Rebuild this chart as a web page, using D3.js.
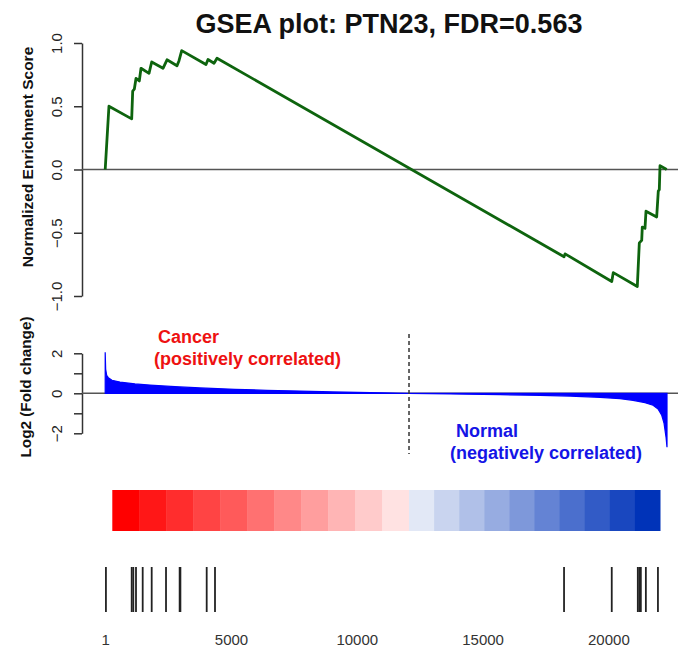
<!DOCTYPE html>
<html>
<head>
<meta charset="utf-8">
<script src="https://cdn.jsdelivr.net/npm/d3@7"></script>
<style>
  html, body { margin: 0; padding: 0; background: #fff; }
  svg { display: block; font-family: "Liberation Sans", Arial, sans-serif; }
</style>
</head>
<body>
<svg id="chart" width="678" height="649"></svg>
<script>
// ---------------- DATA ----------------
const titleText = "GSEA plot: PTN23, FDR=0.563";
const nGenes = 22330;

// Running enrichment score vertices (rank, score)
const esRanks  = [1, 150, 1054, 1094, 1158, 1225, 1356, 1424, 1742, 1849, 2298, 2458, 2855, 2935, 3042,
                  4007, 4087, 4326, 4445, 18238, 18278, 20134, 20196, 21150, 21230, 21325, 21348, 21455,
                  21495, 21920, 21984, 22024, 22052, 22318];
const esScores = [0, 0.50, 0.40, 0.62, 0.635, 0.72, 0.70, 0.80, 0.76, 0.85, 0.80, 0.867, 0.82, 0.86, 0.94,
                  0.83, 0.87, 0.84, 0.88, -0.69, -0.667, -0.885, -0.815, -0.925, -0.58, -0.56, -0.455, -0.465,
                  -0.33, -0.375, -0.17, -0.16, 0.03, 0.0];
const esTicks = [-1.0, -0.5, 0.0, 0.5, 1.0];

// Ranked log2 fold change (rank, value)
const fcRanks  = [1, 20, 60, 124, 271, 589, 1185, 1782, 2775, 3769, 5160, 6432, 7744, 9055, 10526, 12076,
                  13706, 15694, 17284, 18476, 19668, 20463, 20980, 21457, 21775, 21974, 22121, 22213, 22292, 22330];
const fcValues = [2.05, 1.2, 0.9, 0.78, 0.65, 0.56, 0.47, 0.41, 0.33, 0.27, 0.2, 0.15, 0.11, 0.07, 0.04, 0,
                  -0.03, -0.07, -0.1, -0.14, -0.2, -0.27, -0.35, -0.47, -0.6, -0.78, -1.1, -1.5, -2.2, -2.7];
const fcTicks = [-2, -1, 0, 1, 2];
const fcTickLabels = ["-2", "", "0", "", "2"];
const zeroCrossRank = 12076;

// Gene set member positions (ranks)
const hitRanks = [30, 1054, 1118, 1225, 1491, 1849, 2418, 2960, 2990, 4035, 4365,
                  18238, 20134, 21170, 21230, 21290, 21490, 21970];

// Color bar (rank extent, split between positive/negative)
const colorBarStart = 283;
const colorBarEnd = 22052;
const nRedBlocks = 11;
const nBlueBlocks = 10;

// X axis tick labels
const xTicks = [1, 5000, 10000, 15000, 20000];

const cancerLabel = ["Cancer", "(positively correlated)"];
const normalLabel = ["Normal", "(negatively correlated)"];

// ---------------- DRAW ----------------
const svg = d3.select("#chart");
const axisColor = "#333";

const x = d3.scaleLinear().domain([1, nGenes]).range([105.2, 667]);
const yES = d3.scaleLinear().domain([-1, 1]).range([296, 43]);
const yFC = d3.scaleLinear().domain([-2, 2]).range([433.3, 353.3]);

// Title
svg.append("text")
  .attr("x", 389).attr("y", 33)
  .attr("text-anchor", "middle")
  .attr("font-size", 27).attr("font-weight", "bold").attr("fill", "#111")
  .text(titleText);

// ---- ES panel ----
const axisES = d3.axisLeft(yES).tickValues(esTicks).tickFormat(d3.format(".1f")).tickSize(8).tickSizeOuter(0);
const gES = svg.append("g").attr("transform", "translate(82,0)").call(axisES);
gES.select(".domain").attr("stroke", axisColor).attr("stroke-width", 1.5);
gES.selectAll(".tick line").attr("stroke", axisColor).attr("stroke-width", 1.5);
gES.selectAll(".tick text")
  .attr("font-size", 15).attr("fill", "#222").attr("font-family", "Liberation Sans, Arial, sans-serif")
  .attr("x", null).attr("dy", null)
  .attr("text-anchor", "middle")
  .attr("transform", "translate(-20,0) rotate(-90)")
  .text(d => d3.format(".1f")(d).replace("-", "\u2212"));

svg.append("line")
  .attr("x1", 82).attr("x2", 678)
  .attr("y1", yES(0)).attr("y2", yES(0))
  .attr("stroke", "#555").attr("stroke-width", 1.5);

const esData = esRanks.map((r, i) => [r, esScores[i]]);
svg.append("path")
  .datum(esData)
  .attr("fill", "none")
  .attr("stroke", "#0e640e")
  .attr("stroke-width", 2.8)
  .attr("stroke-linejoin", "round")
  .attr("d", d3.line().x(d => x(d[0])).y(d => yES(d[1])));

svg.append("text")
  .attr("transform", `translate(33,157) rotate(-90)`)
  .attr("text-anchor", "middle")
  .attr("font-size", 15.5).attr("font-weight", "bold").attr("fill", "#111")
  .text("Normalized Enrichment Score");

// ---- Fold change panel ----
const axisFC = d3.axisLeft(yFC).tickValues(fcTicks).tickFormat((d, i) => fcTickLabels[i]).tickSize(8).tickSizeOuter(0);
const gFC = svg.append("g").attr("transform", "translate(82,0)").call(axisFC);
gFC.select(".domain").attr("stroke", axisColor).attr("stroke-width", 1.5);
gFC.selectAll(".tick line").attr("stroke", axisColor).attr("stroke-width", 1.5);
gFC.selectAll(".tick text")
  .attr("font-size", 15).attr("fill", "#222").attr("font-family", "Liberation Sans, Arial, sans-serif")
  .attr("x", null).attr("dy", null)
  .attr("text-anchor", "middle")
  .attr("transform", "translate(-20,0) rotate(-90)")
  .text((d, i) => fcTickLabels[i].replace("-", "\u2212"));

svg.append("line")
  .attr("x1", 82).attr("x2", 678)
  .attr("y1", yFC(0)).attr("y2", yFC(0))
  .attr("stroke", "#555").attr("stroke-width", 1.5);

const fcData = fcRanks.map((r, i) => [r, fcValues[i]]);
svg.append("path")
  .datum(fcData)
  .attr("fill", "#0000ff")
  .attr("stroke", "#0000ff")
  .attr("stroke-width", 1.2)
  .attr("d", d3.area().x(d => x(d[0])).y0(yFC(0)).y1(d => yFC(d[1])));

svg.append("line")
  .attr("x1", x(zeroCrossRank)).attr("x2", x(zeroCrossRank))
  .attr("y1", 334).attr("y2", 454)
  .attr("stroke", "#333").attr("stroke-width", 1.5)
  .attr("stroke-dasharray", "4,3");

svg.append("text")
  .attr("transform", `translate(31,387) rotate(-90)`)
  .attr("text-anchor", "middle")
  .attr("font-size", 15.3).attr("font-weight", "bold").attr("fill", "#111")
  .text("Log2 (Fold change)");

svg.append("text").attr("x", 158).attr("y", 343)
  .attr("font-size", 18).attr("font-weight", "bold").attr("fill", "#ee1111").text(cancerLabel[0]);
svg.append("text").attr("x", 154).attr("y", 365)
  .attr("font-size", 18).attr("font-weight", "bold").attr("fill", "#ee1111").text(cancerLabel[1]);
svg.append("text").attr("x", 456).attr("y", 437)
  .attr("font-size", 18).attr("font-weight", "bold").attr("fill", "#1414e6").text(normalLabel[0]);
svg.append("text").attr("x", 450).attr("y", 459)
  .attr("font-size", 18).attr("font-weight", "bold").attr("fill", "#1414e6").text(normalLabel[1]);

// ---- Color bar ----
const redScale = d3.interpolateRgb("#ff0000", "#ffe2e2");
const blueScale = d3.interpolateRgb("#e2e8f6", "#0033b8");
const redW = (zeroCrossRank - colorBarStart) / nRedBlocks;
const blueW = (colorBarEnd - zeroCrossRank) / nBlueBlocks;
const blocks = [];
for (let i = 0; i < nRedBlocks; i++) {
  blocks.push({ r0: colorBarStart + i * redW, r1: colorBarStart + (i + 1) * redW, c: redScale(i / (nRedBlocks - 1)) });
}
for (let i = 0; i < nBlueBlocks; i++) {
  blocks.push({ r0: zeroCrossRank + i * blueW, r1: zeroCrossRank + (i + 1) * blueW, c: blueScale(i / (nBlueBlocks - 1)) });
}
svg.append("g").selectAll("rect").data(blocks).join("rect")
  .attr("x", d => x(d.r0))
  .attr("width", d => x(d.r1) - x(d.r0) + 0.5)
  .attr("y", 490).attr("height", 41)
  .attr("fill", d => d.c);

// ---- Hit ticks ----
svg.append("g").selectAll("line").data(hitRanks).join("line")
  .attr("x1", d => x(d)).attr("x2", d => x(d))
  .attr("y1", 567).attr("y2", 612)
  .attr("stroke", "#222").attr("stroke-width", 1.8);

// ---- X labels ----
const axisX = d3.axisBottom(x).tickValues(xTicks).tickFormat(d3.format("d")).tickSize(0);
const gX = svg.append("g").attr("transform", "translate(0,632)").call(axisX);
gX.select(".domain").remove();
gX.selectAll(".tick text")
  .attr("font-size", 15).attr("fill", "#333").attr("font-family", "Liberation Sans, Arial, sans-serif")
  .attr("dy", "0.71em").attr("y", 2);
</script>
</body>
</html>
